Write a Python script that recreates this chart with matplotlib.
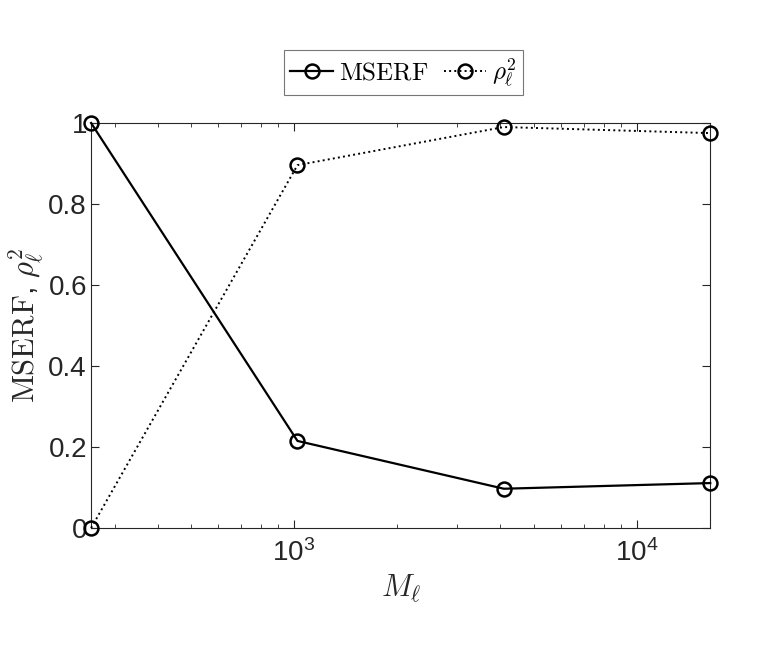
import matplotlib
matplotlib.use("Agg")
import matplotlib.pyplot as plt
from matplotlib.ticker import LogLocator, NullFormatter

# sample sizes per level and the two measured quantities
M_levels = [256, 1024, 4096, 16384]
mserf = [1.0, 0.215, 0.097, 0.111]
rho2 = [0.0, 0.896, 0.990, 0.975]

plt.rcParams['mathtext.fontset'] = 'cm'
plt.rcParams['font.family'] = ['Liberation Sans', 'DejaVu Sans']

fig = plt.figure(figsize=(7.72, 6.49), dpi=100)
ax = fig.add_axes([0.118, 0.1864, 0.802, 0.6241])

ax.plot(M_levels, mserf, '-o', color='black', lw=1.6, ms=10,
        mfc='none', mew=1.8, label=r'$\mathrm{MSERF}$', clip_on=False, zorder=3)
ax.plot(M_levels, rho2, ':o', color='black', lw=1.4, ms=10,
        mfc='none', mew=1.8, label=r'$\rho_\ell^2$', clip_on=False, zorder=3)

ax.set_xscale('log')
ax.set_xlim(M_levels[0], M_levels[-1])
ax.set_ylim(0, 1)
ax.set_yticks([0, 0.2, 0.4, 0.6, 0.8, 1])
ax.set_yticklabels(['0', '0.2', '0.4', '0.6', '0.8', '1'])
ax.xaxis.set_major_locator(LogLocator(base=10))
ax.xaxis.set_minor_locator(LogLocator(base=10, subs=range(2, 10)))
ax.xaxis.set_minor_formatter(NullFormatter())

ax.tick_params(which='both', direction='in', top=True, right=True,
               colors='#262626', labelcolor='#262626', labelsize=20)
ax.tick_params(axis='y', pad=3)
ax.tick_params(axis='x', pad=8)
ax.tick_params(which='major', length=6, width=0.8)
ax.tick_params(which='minor', length=3, width=0.6)
for s in ax.spines.values():
    s.set_color('#262626')
    s.set_linewidth(0.8)

ax.set_xlabel(r'$M_\ell$', fontsize=22, color='#262626', labelpad=4)
ax.set_ylabel(r'$\mathrm{MSERF}$, $\rho_\ell^2$', fontsize=22,
              color='#262626', labelpad=2)

leg = ax.legend(loc='lower center', bbox_to_anchor=(0.505, 1.069), ncol=2,
                fontsize=18, frameon=True, fancybox=False, edgecolor='#555555',
                handlelength=1.7, handletextpad=0.25, columnspacing=0.6,
                borderpad=0.25, borderaxespad=0)
leg.get_frame().set_linewidth(0.8)

fig.savefig('out.png', dpi=100)
